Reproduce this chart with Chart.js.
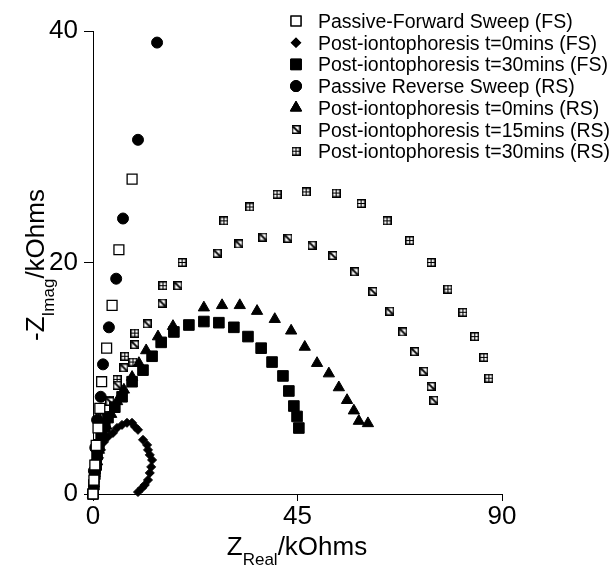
<!DOCTYPE html>
<html>
<head>
<meta charset="utf-8">
<script src="https://cdn.jsdelivr.net/npm/chart.js@4/dist/chart.umd.min.js"></script>
<style>
html, body { margin: 0; padding: 0; background: #fff; }
</style>
</head>
<body>
<canvas id="grafico" width="616" height="573"></canvas>
<script>
// etiquetas de las series
const seriesLabels = [
  'Passive-Forward Sweep (FS)',
  'Post-iontophoresis t=0mins (FS)',
  'Post-iontophoresis t=30mins (FS)',
  'Passive Reverse Sweep (RS)',
  'Post-iontophoresis t=0mins (RS)',
  'Post-iontophoresis t=15mins (RS)',
  'Post-iontophoresis t=30mins (RS)'
];

const xTicks = [0, 45, 90];
const yTicks = [0, 20, 40];

// Z real / -Z imag (kOhms)
const pasFsX = [0, 0.2, 0.4, 0.7, 1.1, 1.5, 1.9, 3.0, 4.2, 5.7, 8.6];
const pasFsY = [0, 1.2, 2.5, 4.2, 5.7, 7.4, 9.7, 12.6, 16.3, 21.1, 27.2];

const t0FsX = [0, 0.2, 0.44, 0.66, 0.88, 1.32, 1.76, 2.42, 3.3, 4.4, 5.28, 6.38, 7.48, 8.58, 9.24, 9.9, 11.0, 11.9, 12.1, 12.5, 13.0, 12.8, 12.5, 12.1, 11.4, 10.8, 9.9];
const t0FsY = [0, 0.35, 1.04, 1.73, 2.42, 3.12, 3.81, 4.5, 4.94, 5.28, 5.71, 5.97, 6.15, 6.15, 5.8, 5.54, 4.68, 4.24, 3.81, 3.38, 2.94, 2.34, 1.82, 1.21, 0.78, 0.52, 0.17];

const t30FsX = [0, 0.2, 0.4, 0.7, 0.9, 1.3, 1.8, 2.6, 3.3, 4.8, 6.4, 8.6, 11.0, 13.0, 15.0, 17.8, 21.1, 24.4, 27.7, 31.0, 34.1, 37.0, 39.4, 41.8, 43.1, 44.2, 44.9, 45.3];
const t30FsY = [0, 0.8, 1.7, 2.5, 3.4, 4.2, 5.0, 5.8, 6.6, 7.5, 8.4, 9.7, 10.7, 11.9, 13.1, 14.0, 14.6, 14.9, 14.8, 14.4, 13.6, 12.6, 11.4, 10.2, 8.9, 7.6, 6.7, 5.7];

const pasRsX = [0, 0.2, 0.5, 0.9, 1.7, 2.2, 3.5, 5.1, 6.6, 9.9, 14.1];
const pasRsY = [0, 2.0, 4.0, 6.4, 8.4, 11.2, 14.4, 18.6, 23.8, 30.6, 39.0];

const t0RsX = [0, 0.2, 0.4, 0.9, 1.3, 2.0, 2.9, 4.0, 5.3, 6.8, 8.6, 10.1, 11.7, 14.3, 17.6, 24.4, 28.4, 32.3, 36.1, 40.0, 43.6, 46.6, 49.3, 51.9, 54.1, 55.9, 57.4, 58.5, 60.5];
const t0RsY = [0, 0.9, 1.8, 2.8, 3.8, 4.9, 5.9, 6.9, 8.0, 9.0, 10.1, 11.3, 12.4, 13.6, 14.5, 16.1, 16.3, 16.3, 15.8, 15.1, 14.1, 12.7, 11.3, 10.4, 9.2, 8.1, 7.2, 6.3, 6.1];

const t15RsX = [0, 0.2, 0.4, 0.7, 1.1, 1.8, 2.6, 3.7, 5.3, 6.8, 9.2, 11.9, 15.2, 18.7, 27.3, 32.1, 37.4, 42.9, 48.2, 52.8, 57.6, 61.6, 65.3, 68.2, 70.8, 72.8, 74.4, 75.0];
const t15RsY = [0, 1.0, 2.1, 3.1, 4.4, 5.8, 6.8, 8.0, 9.4, 10.9, 12.9, 14.7, 16.5, 18.0, 20.8, 21.6, 22.2, 22.1, 21.5, 20.6, 19.2, 17.5, 15.8, 14.0, 12.3, 10.6, 9.3, 8.1];

const t30RsX = [0, 0.2, 0.4, 0.7, 0.9, 1.1, 1.8, 2.2, 3.7, 5.3, 7.0, 8.8, 9.2, 15.4, 19.6, 28.8, 34.5, 40.5, 46.9, 53.5, 59.0, 64.7, 69.7, 74.4, 78.1, 81.4, 84.0, 86.0, 87.1];
const t30RsY = [0, 0.5, 1.2, 2.1, 2.9, 4.1, 5.3, 6.6, 8.1, 9.9, 11.9, 11.4, 13.9, 18.0, 20.0, 23.6, 24.8, 25.9, 26.1, 26.0, 25.1, 23.6, 21.9, 20.0, 17.7, 15.7, 13.6, 11.8, 10.0];

const FONT = "'Liberation Sans', Arial, Helvetica, sans-serif";

function puntos(xs, ys) {
  return xs.map((x, i) => ({ x: x, y: ys[i] }));
}

// marcadores pequeños: cuadrado con diagonal y cuadrado con cruz
function marcador(tipo) {
  const c = document.createElement('canvas');
  c.width = 9; c.height = 9;
  const g = c.getContext('2d');
  g.fillStyle = '#fff';
  g.fillRect(0, 0, 9, 9);
  g.strokeStyle = '#000';
  g.lineWidth = 1.5;
  g.strokeRect(0.75, 0.75, 7.5, 7.5);
  g.beginPath();
  if (tipo === 'cruz') {
    g.lineWidth = 1.2;
    g.moveTo(4.5, 1); g.lineTo(4.5, 8);
    g.moveTo(1, 4.5); g.lineTo(8, 4.5);
  } else {
    g.lineWidth = 1.8;
    g.moveTo(1.5, 1.5); g.lineTo(7.5, 7.5);
  }
  g.stroke();
  return c;
}
const diagImg = marcador('diag');
const cruzImg = marcador('cruz');

const estilos = [
  { pointStyle: 'rect', pointRadius: 7, pointBackgroundColor: '#fff', pointBorderWidth: 1.3 },
  { pointStyle: 'rectRot', pointRadius: 4.5, pointBackgroundColor: '#000', pointBorderWidth: 1 },
  { pointStyle: 'rect', pointRadius: 7.5, pointBackgroundColor: '#000', pointBorderWidth: 1 },
  { pointStyle: 'circle', pointRadius: 5.5, pointBackgroundColor: '#000', pointBorderWidth: 1 },
  { pointStyle: 'triangle', pointRadius: 6.5, pointBackgroundColor: '#000', pointBorderWidth: 1 },
  { pointStyle: diagImg, pointRadius: 5, pointBackgroundColor: '#fff', pointBorderWidth: 1 },
  { pointStyle: cruzImg, pointRadius: 5, pointBackgroundColor: '#fff', pointBorderWidth: 1 }
];

const series = [
  puntos(pasFsX, pasFsY),
  puntos(t0FsX, t0FsY),
  puntos(t30FsX, t30FsY),
  puntos(pasRsX, pasRsY),
  puntos(t0RsX, t0RsY),
  puntos(t15RsX, t15RsY),
  puntos(t30RsX, t30RsY)
];

const datasets = series.map((d, i) => Object.assign({
  label: seriesLabels[i],
  data: d,
  showLine: false,
  pointBorderColor: '#000',
  clip: false
}, estilos[i]));

// dibuja un texto con subíndice centrado en cx
function textoSub(c, a, sub, b, cx, base) {
  c.font = '26px ' + FONT;
  const wa = c.measureText(a).width;
  const wb = c.measureText(b).width;
  c.font = '17px ' + FONT;
  const ws = c.measureText(sub).width;
  let x = cx - (wa + ws + wb) / 2;
  c.font = '26px ' + FONT;
  c.fillText(a, x, base); x += wa;
  c.font = '17px ' + FONT;
  c.fillText(sub, x, base + 10); x += ws;
  c.font = '26px ' + FONT;
  c.fillText(b, x, base);
}

const extras = {
  id: 'extras',
  afterDraw(chart) {
    const c = chart.ctx;
    c.save();
    c.fillStyle = '#000';
    c.textAlign = 'left';
    c.textBaseline = 'alphabetic';
    textoSub(c, 'Z', 'Real', '/kOhms', 297, 555);
    c.save();
    c.translate(44, 265);
    c.rotate(-Math.PI / 2);
    textoSub(c, '-Z', 'Imag', '/kOhms', 0, 0);
    c.restore();

    // leyenda
    c.font = '19.5px ' + FONT;
    seriesLabels.forEach((lab, i) => {
      const base = 28 + i * 21.7;
      const e = estilos[i];
      Chart.helpers.drawPoint(c, {
        pointStyle: e.pointStyle,
        radius: e.pointRadius,
        borderWidth: e.pointBorderWidth,
        rotation: 0
      }, 296, base - 7);
      c.fillStyle = e.pointBackgroundColor;
      c.strokeStyle = '#000';
      c.lineWidth = e.pointBorderWidth;
      if (typeof e.pointStyle === 'string') {
        c.fill();
        c.stroke();
      }
      c.fillStyle = '#000';
      c.fillText(lab, 318, base);
    });
    c.restore();
  }
};

const ctx = document.getElementById('grafico').getContext('2d');
new Chart(ctx, {
  type: 'scatter',
  data: { datasets: datasets },
  options: {
    responsive: false,
    animation: false,
    layout: { autoPadding: false, padding: { top: 31, right: 114, left: 0, bottom: 0 } },
    plugins: { legend: { display: false }, tooltip: { enabled: false } },
    scales: {
      x: {
        type: 'linear', min: 0, max: 90,
        afterFit: s => { s.height = 79; },
        afterBuildTicks: s => { s.ticks = xTicks.map(v => ({ value: v })); },
        ticks: { color: '#000', font: { family: FONT, size: 26 }, padding: 0, maxRotation: 0 },
        grid: { drawOnChartArea: false, tickLength: 7, tickColor: '#000', tickWidth: 1 },
        border: { color: '#000', width: 1 }
      },
      y: {
        type: 'linear', min: 0, max: 40,
        afterFit: s => { s.width = 93; },
        afterBuildTicks: s => { s.ticks = yTicks.map(v => ({ value: v })); },
        ticks: { color: '#000', font: { family: FONT, size: 26 }, padding: 6 },
        grid: { drawOnChartArea: false, tickLength: 9, tickColor: '#000', tickWidth: 1 },
        border: { color: '#000', width: 1 }
      }
    }
  },
  plugins: [extras]
});
</script>
</body>
</html>
